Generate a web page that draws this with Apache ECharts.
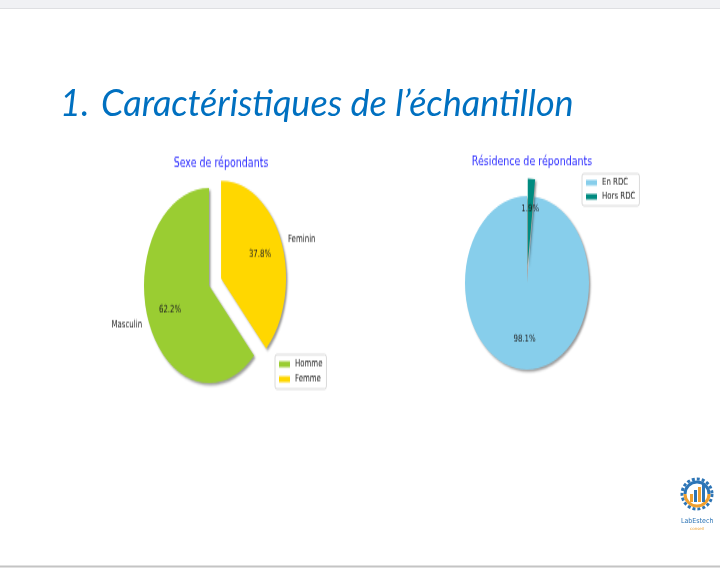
<!DOCTYPE html>
<html>
<head>
<meta charset="utf-8">
<script src="https://cdn.jsdelivr.net/npm/echarts@6/dist/echarts.min.js"></script>
<style>
  body { margin: 0; background: #fff; }
  #slide { position: relative; width: 720px; height: 568px; overflow: hidden; }
  #bg { position: absolute; left: 0; top: 0; width: 720px; height: 568px; }
  /* the pies were pasted stretched in the slide, so stretch them here too */
  #sexe { position: absolute; left: 100px; top: 140px; width: 240px; height: 175px; transform: scaleY(1.5); transform-origin: 0 0; }
  #residence { position: absolute; left: 440px; top: 140px; width: 220px; height: 175px; transform: scaleY(1.4); transform-origin: 0 0; }
</style>
</head>
<body>
<div id="slide">
  <div id="bg"></div>
  <div id="sexe"></div>
  <div id="residence"></div>
</div>
<script>
// ---- data ----
var slideNumber = '1.';
var slideTitle = 'Caractéristiques de l’échantillon';

var sexeTitle = 'Sexe de répondants';
var sexeLegend = ['Homme', 'Femme'];
var sexeLabels = ['Masculin', 'Feminin'];
var sexeValues = [62.2, 37.8];
var sexeColors = ['#9acd32', '#ffd700'];

var resTitle = 'Résidence de répondants';
var resLegend = ['En RDC', 'Hors RDC'];
var resValues = [98.1, 1.9];
var resColors = ['#87ceeb', '#008b80'];

var txtFont = '"DejaVu Sans", sans-serif';

// ---- slide background, title, logo ----
var bg = echarts.init(document.getElementById('bg'));
bg.setOption({
  animation: false,
  graphic: [
    { type: 'rect', shape: { x: 0, y: 0, width: 720, height: 8 }, style: { fill: '#f0f1f4' } },
    { type: 'line', shape: { x1: 0, y1: 8.5, x2: 720, y2: 8.5 }, style: { stroke: '#dedfe2', lineWidth: 1 } },
    { type: 'line', shape: { x1: 0, y1: 566.5, x2: 720, y2: 566.5 }, style: { stroke: '#c4c4c4', lineWidth: 2 } },
    { type: 'text', left: 60, top: 86, style: { text: slideNumber, fill: '#0070c0', font: 'italic 36px Lato, "Open Sans", sans-serif' } },
    { type: 'text', left: 101, top: 86, style: { text: slideTitle, fill: '#0070c0', font: 'italic 36px Lato, "Open Sans", sans-serif' } },
    // logo
    { type: 'circle', shape: { cx: 697, cy: 494, r: 15 }, style: { fill: 'none', stroke: '#2e75b6', lineWidth: 3, lineDash: [3, 2] } },
    { type: 'arc', shape: { cx: 697, cy: 494, r: 12, startAngle: Math.PI, endAngle: 2 * Math.PI }, style: { fill: 'none', stroke: '#2e75b6', lineWidth: 3 } },
    { type: 'arc', shape: { cx: 697, cy: 494, r: 12, startAngle: 0, endAngle: Math.PI }, style: { fill: 'none', stroke: '#f0a030', lineWidth: 3 } },
    { type: 'rect', shape: { x: 690, y: 494, width: 3, height: 8 }, style: { fill: '#f0a030' } },
    { type: 'rect', shape: { x: 694, y: 490, width: 3, height: 12 }, style: { fill: '#2e75b6' } },
    { type: 'rect', shape: { x: 698, y: 487, width: 3, height: 15 }, style: { fill: '#f0a030' } },
    { type: 'rect', shape: { x: 702, y: 484, width: 3, height: 18 }, style: { fill: '#2e75b6' } },
    { type: 'text', left: 681, top: 518, style: { text: 'LabEstech', fill: '#2e75b6', font: '7px "DejaVu Sans Condensed", "DejaVu Sans"' } },
    { type: 'text', left: 690, top: 527, style: { text: 'conseil', fill: '#f0a030', font: '4px "DejaVu Sans"' } }
  ]
});

// ---- pies ----
function pieOption(title, titleX, legendNames, labels, values, colors, center, radius, legendPos) {
  var main = [], overlay = [];
  for (var i = 0; i < values.length; i++) {
    main.push({ name: legendNames[i], value: values[i], selected: i === 1, itemStyle: { color: colors[i] } });
    overlay.push({ name: legendNames[i], value: values[i], selected: i === 1 });
  }
  return {
    animation: false,
    title: {
      text: title, left: titleX, top: 6, textAlign: 'center',
      textStyle: { fontFamily: txtFont, fontSize: 9.5, fontWeight: 'normal', color: '#2a2aff' }
    },
    legend: {
      orient: 'vertical', left: legendPos[0], top: legendPos[1],
      data: legendNames, icon: 'rect', itemWidth: 11, itemHeight: 4, itemGap: 3,
      padding: [3, 4], borderColor: '#d0d0d0', borderWidth: 0.8, borderRadius: 2,
      textStyle: { fontFamily: txtFont, fontSize: 7, color: '#222' }
    },
    series: [
      {
        type: 'pie', center: center, radius: radius,
        startAngle: 90, clockwise: false, selectedMode: 'single', selectedOffset: radius * 0.2,
        avoidLabelOverlap: false, silent: true,
        itemStyle: { shadowColor: 'rgba(0,0,0,0.4)', shadowBlur: 2, shadowOffsetX: 1.5, shadowOffsetY: 1.5 },
        label: {
          show: labels !== null, position: 'outside', distanceToLabelLine: 2,
          fontFamily: txtFont, fontSize: 7, color: '#222',
          formatter: function (p) { return labels ? labels[p.dataIndex] : ''; }
        },
        labelLine: { show: false, length: 5, length2: 0 },
        data: main
      },
      {
        type: 'pie', center: center, radius: [radius * 0.2, radius],
        startAngle: 90, clockwise: false, selectedMode: 'single', selectedOffset: radius * 0.2,
        avoidLabelOverlap: false, silent: true,
        itemStyle: { color: 'rgba(0,0,0,0)' },
        label: {
          show: true, position: 'inside',
          fontFamily: txtFont, fontSize: 7, color: '#222',
          formatter: function (p) { return p.value.toFixed(1) + '%'; }
        },
        data: overlay
      }
    ]
  };
}

var sexe = echarts.init(document.getElementById('sexe'));
sexe.setOption(pieOption(sexeTitle, 116, sexeLegend, sexeLabels, sexeValues, sexeColors, [109, 97], 65, [175, 143]));

var residence = echarts.init(document.getElementById('residence'));
residence.setOption(pieOption(resTitle, 87, resLegend, null, resValues, resColors, [87, 102], 62, [142, 24]));
</script>
</body>
</html>
